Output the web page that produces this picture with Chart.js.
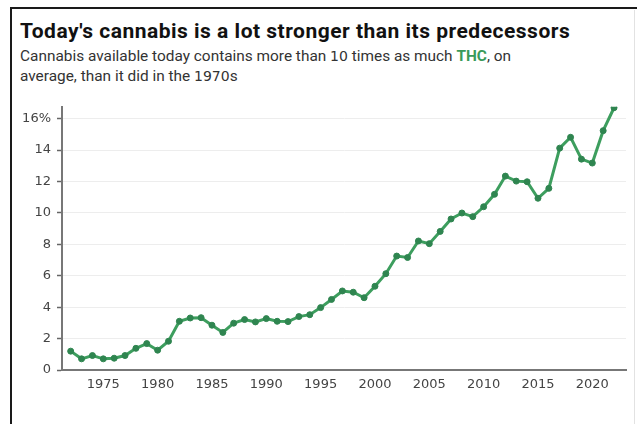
<!DOCTYPE html>
<html lang="en">
<head>
    <meta charset="UTF-8">
    <title>Cannabis THC potency</title>
    <script src="https://cdn.jsdelivr.net/npm/chart.js"></script>
    <style>
        html, body {
            margin: 0;
            padding: 0;
            background: #fff;
        }
        body {
            width: 637px;
            height: 424px;
            position: relative;
            overflow: hidden;
            font-family: "Roboto", "Liberation Sans", sans-serif;
        }
        .frame {
            position: absolute;
            left: 10px;
            top: 7px;
            width: 640px;
            height: 430px;
            border-top: 2px solid #1a1a1a;
            border-left: 2px solid #1a1a1a;
        }
        .edge {
            position: absolute;
            left: 634px;
            top: 10px;
            width: 1px;
            height: 414px;
            background: #e2e2e2;
        }
        h1 {
            position: absolute;
            left: 20px;
            top: 18px;
            margin: 0;
            font-size: 21px;
            letter-spacing: 0.5px;
            line-height: 26px;
            font-weight: bold;
            color: #111;
            white-space: nowrap;
        }
        .sub {
            position: absolute;
            left: 20px;
            top: 46px;
            width: 520px;
            margin: 0;
            font-size: 15.4px;
            line-height: 20px;
            color: #333;
        }
        .sub .num {
            font-family: "DejaVu Sans", sans-serif;
            font-size: 14px;
        }
        .sub .thc {
            color: #3a9a5a;
            font-weight: bold;
        }
        .chart-box {
            position: absolute;
            left: 0;
            top: 93px;
            width: 637px;
            height: 307px;
        }
    </style>
</head>
<body>
    <div class="frame"></div>
    <div class="edge"></div>
    <h1>Today's cannabis is a lot stronger than its predecessors</h1>
    <p class="sub">Cannabis available today contains more than <span class="num">10</span> times as much <span class="thc">THC</span>, on average, than it did in the <span class="num">1970</span>s</p>

    <div class="chart-box">
        <canvas id="thcChart" width="637" height="307"></canvas>
    </div>

    <script>
        // Average THC content (%) by year
        const years = [
            1972, 1973, 1974, 1975, 1976, 1977, 1978, 1979, 1980, 1981,
            1982, 1983, 1984, 1985, 1986, 1987, 1988, 1989, 1990, 1991,
            1992, 1993, 1994, 1995, 1996, 1997, 1998, 1999, 2000, 2001,
            2002, 2003, 2004, 2005, 2006, 2007, 2008, 2009, 2010, 2011,
            2012, 2013, 2014, 2015, 2016, 2017, 2018, 2019, 2020, 2021,
            2022
        ];
        const thcPercent = [
            1.2, 0.71, 0.92, 0.71, 0.75, 0.92, 1.38, 1.68, 1.26, 1.83,
            3.1, 3.31, 3.33, 2.85, 2.39, 2.98, 3.21, 3.06, 3.27, 3.1,
            3.08, 3.4, 3.52, 3.97, 4.49, 5.03, 4.95, 4.6, 5.33, 6.13,
            7.25, 7.16, 8.21, 8.04, 8.82, 9.61, 9.99, 9.76, 10.39, 11.18,
            12.34, 12.02, 11.98, 10.93, 11.56, 14.12, 14.81, 13.42, 13.17, 15.23,
            16.69
        ];
        const xTickYears = [1975, 1980, 1985, 1990, 1995, 2000, 2005, 2010, 2015, 2020];
        const yTickValues = [0, 2, 4, 6, 8, 10, 12, 14, 16];

        const tickFont = { family: "'DejaVu Sans', sans-serif", size: 13 };

        const ctx = document.getElementById('thcChart').getContext('2d');
        const chart = new Chart(ctx, {
            type: 'line',
            data: {
                datasets: [{
                    label: 'THC',
                    data: years.map((y, i) => ({ x: y, y: thcPercent[i] })),
                    borderColor: '#3d9e5e',
                    backgroundColor: '#2f8550',
                    pointBorderColor: '#2f8550',
                    pointBackgroundColor: '#2f8550',
                    borderWidth: 3,
                    pointRadius: 3,
                    pointBorderWidth: 1,
                    tension: 0,
                    fill: false
                }]
            },
            options: {
                responsive: false,
                animation: false,
                layout: {
                    padding: { left: 0, right: 11, top: 5, bottom: 0 }
                },
                plugins: {
                    legend: { display: false },
                    tooltip: { enabled: false }
                },
                scales: {
                    x: {
                        type: 'linear',
                        min: 1971.2,
                        max: 2023.1,
                        afterBuildTicks: scale => {
                            scale.ticks = xTickYears.map(v => ({ value: v }));
                        },
                        afterFit: scale => { scale.height = 30; },
                        grid: {
                            display: false,
                            drawTicks: false
                        },
                        border: {
                            display: true,
                            color: '#777',
                            width: 2
                        },
                        ticks: {
                            font: tickFont,
                            color: '#444',
                            padding: 7,
                            maxRotation: 0,
                            callback: v => String(v)
                        }
                    },
                    y: {
                        min: 0,
                        max: 16.75,
                        afterBuildTicks: scale => {
                            scale.ticks = yTickValues.map(v => ({ value: v }));
                        },
                        afterFit: scale => { scale.width = 62; },
                        grid: {
                            color: '#ededed',
                            lineWidth: 1,
                            drawTicks: true,
                            tickLength: 5,
                            tickColor: '#666',
                            tickWidth: 1.5
                        },
                        border: {
                            display: true,
                            color: '#777',
                            width: 2
                        },
                        ticks: {
                            font: tickFont,
                            color: '#444',
                            padding: 6,
                            callback: v => v === 16 ? '16%' : String(v)
                        }
                    }
                }
            }
        });
    </script>
</body>
</html>
